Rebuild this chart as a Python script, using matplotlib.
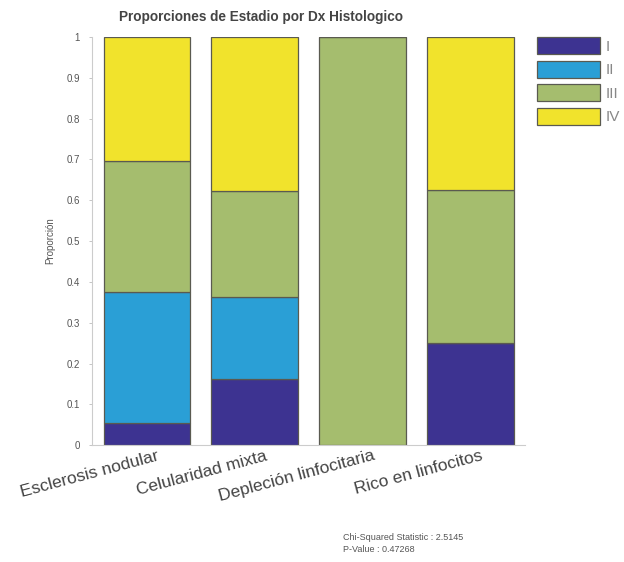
import matplotlib
matplotlib.use("Agg")
import matplotlib.pyplot as plt
import matplotlib.transforms as mtransforms
import numpy as np

plt.rcParams['font.family'] = ['Liberation Sans', 'DejaVu Sans']

categories = ["Esclerosis nodular", "Celularidad mixta",
              "Depleción linfocitaria", "Rico en linfocitos"]
stages = ["I", "II", "III", "IV"]
stage_I = [0.054, 0.1625, 0.0, 0.25]
stage_II = [0.321, 0.20, 0.0, 0.0]
stage_III = [0.322, 0.26, 1.0, 0.375]
stage_IV = [0.303, 0.3775, 0.0, 0.375]
yticks = [0, 0.1, 0.2, 0.3, 0.4, 0.5, 0.6, 0.7, 0.8, 0.9, 1]
ytick_labels = ["0", "0.1", "0.2", "0.3", "0.4", "0.5", "0.6", "0.7", "0.8", "0.9", "1"]
chi2_stat = "2.5145"
p_value = "0.47268"

colors = ["#3d3391", "#2a9fd6", "#a5bd6e", "#f1e32c"]
series = [stage_I, stage_II, stage_III, stage_IV]

fig = plt.figure(figsize=(6.24, 5.62), dpi=100)
ax = fig.add_axes([0.147, 0.208, 0.695, 0.726])

x = np.arange(1, len(categories) + 1)
bottom = np.zeros(len(categories))
for vals, col, lab in zip(series, colors, stages):
    ax.bar(x, vals, width=0.8, bottom=bottom, color=col, edgecolor="#5a5a50",
           linewidth=0.9, label=lab)
    bottom += np.array(vals)

ax.set_xlim(0.49, 4.51)
ax.set_ylim(0, 1)
ax.set_yticks(yticks)
ax.set_yticklabels(ytick_labels)
ax.set_xticks(x)
ax.set_xticklabels([""] * len(categories))

# rotated category labels, nudged right of each bar centre
label_tf = (mtransforms.blended_transform_factory(ax.transData, ax.transAxes)
            + mtransforms.ScaledTranslation(10 / 100, -3 / 100, fig.dpi_scale_trans))
for xi, cat in zip(x, categories):
    ax.text(xi, 0, cat, transform=label_tf, rotation=15, ha="right", va="top",
            rotation_mode="anchor", fontsize=12.5, color="#444444")

ax.tick_params(axis="x", length=0)
ax.tick_params(axis="y", length=2.5, width=0.6, color="#bbbbbb",
               labelsize=7, labelcolor="#555555", pad=6)
for s in ["top", "right"]:
    ax.spines[s].set_visible(False)
for s in ["left", "bottom"]:
    ax.spines[s].set_color("#cccccc")
    ax.spines[s].set_linewidth(0.8)

ax.set_ylabel("Proporción", fontsize=7, color="#555555", labelpad=8)

fig.text(261 / 624, 1 - 17 / 562, "Proporciones de Estadio por Dx Histologico",
         ha="center", va="center", fontsize=9.8, fontweight="bold", color="#444444")

ax.legend(loc="upper left", bbox_to_anchor=(1.027, 1.0), frameon=False,
          fontsize=11, handlelength=4.1, handleheight=1.35, labelspacing=0.42,
          handletextpad=0.4, borderaxespad=0.0, borderpad=0.0,
          labelcolor="#888888")

fig.text(343 / 624, 1 - 537 / 562, f"Chi-Squared Statistic : {chi2_stat}",
         ha="left", va="center", fontsize=6.5, color="#555555")
fig.text(343 / 624, 1 - 550 / 562, f"P-Value : {p_value}",
         ha="left", va="center", fontsize=6.5, color="#555555")

fig.savefig("out.png", dpi=100, facecolor="white")
